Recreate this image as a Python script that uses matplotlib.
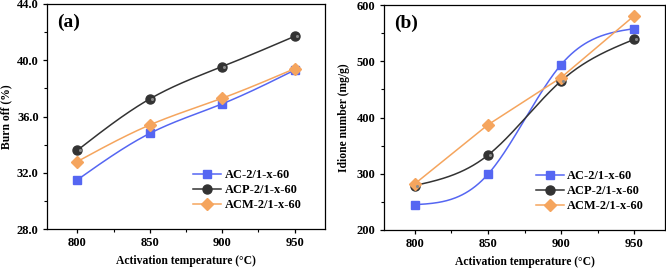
import numpy as np
import matplotlib
matplotlib.use("Agg")
import matplotlib.pyplot as plt
from matplotlib.ticker import MultipleLocator, FormatStrFormatter

temps = [800, 850, 900, 950]
series_names = ["AC-2/1-x-60", "ACP-2/1-x-60", "ACM-2/1-x-60"]
burn_ac = [31.5, 34.8, 36.9, 39.3]
burn_acp = [33.6, 37.25, 39.55, 41.7]
burn_acm = [32.8, 35.4, 37.3, 39.4]
iod_ac = [245, 299, 494, 558]
iod_acp = [279, 333, 465, 539]
iod_acm = [282, 387, 471, 581]

plt.rcParams['font.family'] = ['Liberation Serif', 'DejaVu Serif']
plt.rcParams['font.weight'] = 'bold'

colors = ['#5566f2', '#333333', '#f5a55e']
markers = ['s', 'o', 'D']
msizes = [6, 6.5, 6.5]


def natural_spline(x, y, n=200):
    x = np.asarray(x, float); y = np.asarray(y, float)
    k = len(x)
    h = np.diff(x)
    A = np.zeros((k, k)); b = np.zeros(k)
    A[0, 0] = 1; A[-1, -1] = 1
    for i in range(1, k - 1):
        A[i, i - 1] = h[i - 1]
        A[i, i] = 2 * (h[i - 1] + h[i])
        A[i, i + 1] = h[i]
        b[i] = 3 * ((y[i + 1] - y[i]) / h[i] - (y[i] - y[i - 1]) / h[i - 1])
    c = np.linalg.solve(A, b)
    xs = np.linspace(x[0], x[-1], n)
    ys = np.empty_like(xs)
    for j, xv in enumerate(xs):
        i = min(np.searchsorted(x, xv, side='right') - 1, k - 2)
        i = max(i, 0)
        bb = (y[i + 1] - y[i]) / h[i] - h[i] * (2 * c[i] + c[i + 1]) / 3
        d = (c[i + 1] - c[i]) / (3 * h[i])
        dx = xv - x[i]
        ys[j] = y[i] + bb * dx + c[i] * dx ** 2 + d * dx ** 3
    return xs, ys


fig = plt.figure(figsize=(6.66, 2.68), dpi=100)
ax1 = fig.add_axes([47 / 666, 1 - 229 / 268, 278 / 666, 225 / 268])
ax2 = fig.add_axes([384 / 666, 1 - 230 / 268, 281 / 666, 225 / 268])


def draw(ax, data, smooth, bx):
    handles = []
    for vals, col, mk, ms, name, sm in zip(data, colors, markers, msizes, series_names, smooth):
        if sm:
            xs, ys = natural_spline(temps, vals)
        else:
            xs, ys = temps, vals
        ax.plot(xs, ys, color=col, lw=1.1, zorder=2)
        ax.plot(temps, vals, linestyle='none', marker=mk, color=col, ms=ms,
                markeredgecolor=col, zorder=3)
        if mk == 'o':
            ax.plot(np.array(temps) + 1.5, vals, linestyle='none', marker='o',
                    color='#8a8a8a', ms=2.2, markeredgewidth=0, zorder=4)
        h, = ax.plot([], [], color=col, lw=1.1, marker=mk, ms=ms, markeredgecolor=col)
        handles.append(h)
    ax.legend(handles, series_names, loc='lower right', frameon=False,
              prop={'family': 'Liberation Serif', 'weight': 'bold', 'size': 8.9},
              handlelength=2.3, handletextpad=0.25, labelspacing=0.25,
              bbox_to_anchor=(bx, 0.03))


draw(ax1, [burn_ac, burn_acp, burn_acm], [True, True, True], 0.955)
draw(ax2, [iod_ac, iod_acp, iod_acm], [True, True, False], 0.965)

for ax in (ax1, ax2):
    ax.set_xlim(779, 971)
    ax.set_xticks(temps)
    ax.xaxis.set_minor_locator(MultipleLocator(25))
    ax.tick_params(which='major', direction='out', length=3, width=0.9, labelsize=9, pad=3)
    ax.tick_params(which='minor', direction='out', length=2, width=0.8)
    for s in ax.spines.values():
        s.set_linewidth(0.9)
    ax.set_xlabel('Activation temperature (°C)', fontsize=8.4, fontweight='bold', labelpad=4)

ax1.set_ylim(28, 44)
ax1.yaxis.set_major_locator(MultipleLocator(4))
ax1.yaxis.set_minor_locator(MultipleLocator(2))
ax1.yaxis.set_major_formatter(FormatStrFormatter('%.1f'))
ax1.set_ylabel('Burn off (%)', fontsize=8.4, fontweight='bold', labelpad=3)

ax2.set_ylim(200, 600)
ax2.yaxis.set_major_locator(MultipleLocator(100))
ax2.yaxis.set_minor_locator(MultipleLocator(50))
ax2.set_ylabel('Idione number (mg/g)', fontsize=8.4, fontweight='bold', labelpad=5)

ax1.text(0.035, 0.955, '(a)', transform=ax1.transAxes, fontsize=14, fontweight='bold', va='top')
ax2.text(0.035, 0.955, '(b)', transform=ax2.transAxes, fontsize=14, fontweight='bold', va='top')

for lab in ax1.get_xticklabels() + ax1.get_yticklabels() + ax2.get_xticklabels() + ax2.get_yticklabels():
    lab.set_fontweight('bold')

fig.savefig('out.png', dpi=100)
